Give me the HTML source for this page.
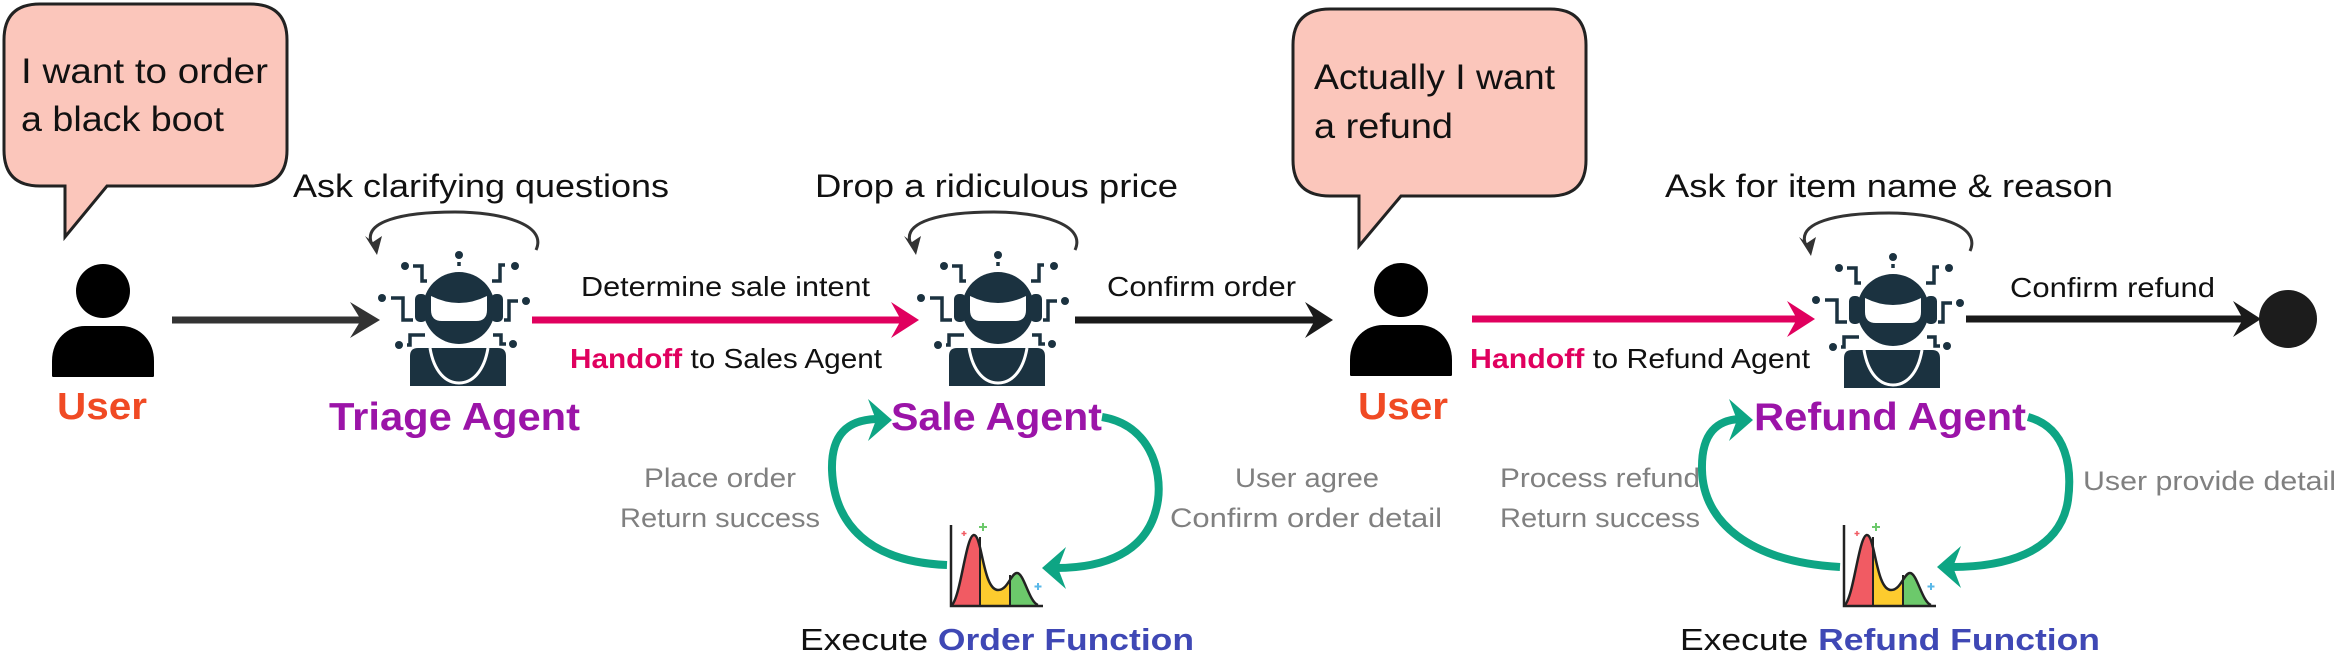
<!DOCTYPE html>
<html><head><meta charset="utf-8"><style>
html,body{margin:0;padding:0;background:#fff;}
svg{display:block;}
text{font-family:"Liberation Sans",sans-serif;}
</style></head><body>
<svg width="2352" height="664" viewBox="0 0 2352 664" xmlns="http://www.w3.org/2000/svg">
<defs>
<g id="robot">
  <g fill="#1b3240">
    <circle cx="0" cy="0" r="36"/>
    <rect x="-44" y="-14" width="12" height="28" rx="5"/>
    <rect x="32" y="-14" width="12" height="28" rx="5"/>
    <path d="M-49,78 L-49,48 Q-49,40 -41,40 L39,40 Q47,40 47,48 L47,78 Z"/>
    <circle cx="0" cy="-53" r="4"/>
    <circle cx="-54" cy="-42" r="4"/>
    <circle cx="56" cy="-42" r="4"/>
    <circle cx="-77" cy="-10" r="4"/>
    <circle cx="67" cy="-7" r="4"/>
    <circle cx="-60" cy="37" r="4"/>
    <circle cx="54" cy="36" r="4"/>
  </g>
  <g fill="none" stroke="#1b3240" stroke-width="3.5">
    <path d="M0,-46 L0,-42"/>
    <path d="M-46,-42 L-37,-42 L-37,-27 L-32,-27"/>
    <path d="M46,-43 L41,-43 L41,-27 L33,-27"/>
    <path d="M-68,-10 L-56,-10 L-56,12 L-46,12"/>
    <path d="M59,-7 L50,-7 L50,12 L45,12"/>
    <path d="M-52,37 L-49,37 L-49,27 L-34,27"/>
    <path d="M47,36 L42,36 L42,27 L34,27"/>
  </g>
  <path d="M-28,-12 Q0,2 28,-12 L28,2 Q28,13 17,13 L-17,13 Q-28,13 -28,2 Z" fill="#fff"/>
  <path d="M-29,40 C-25,64 -13,75 0,75 C13,75 25,64 29,40" fill="none" stroke="#fff" stroke-width="3"/>
</g>
<clipPath id="cc"><path d="M1,0 C10,-10 15,-70 23,-70 C31,-70 32,-15 47,-15 C57,-15 60,-32 66,-32 C73,-32 78,-3 87,0 Z"/></clipPath>
<g id="chart">
  <g clip-path="url(#cc)">
    <rect x="0" y="-80" width="29" height="80" fill="#f15b63"/>
    <rect x="29" y="-80" width="30" height="80" fill="#fdcb2e"/>
    <rect x="59" y="-80" width="35" height="80" fill="#6cc96b"/>
  </g>
  <path d="M1,0 C10,-10 15,-70 23,-70 C31,-70 32,-15 47,-15 C57,-15 60,-32 66,-32 C73,-32 78,-3 87,0" fill="none" stroke="#222" stroke-width="2.5"/>
  <path d="M29,-68 L29,0 M59,-30 L59,0" stroke="#222" stroke-width="2"/>
  <path d="M0,-80 L0,1 L92,1" fill="none" stroke="#222" stroke-width="2.5"/>
  <path d="M32,-82 v8 M28,-78 h8" stroke="#6cc96b" stroke-width="2"/>
  <path d="M13,-74 v5 M10.5,-71.5 h5" stroke="#f15b63" stroke-width="1.5"/>
  <path d="M87,-22 v7 M83.5,-18.5 h7" stroke="#5ab8e8" stroke-width="2"/>
</g>
<g id="user">
  <circle cx="0" cy="0" r="27" fill="#000"/>
  <path d="M-51,85 L-51,70 C-51,48 -35,35 -18,35 L18,35 C35,35 51,48 51,70 L51,85 Q51,86 49,86 L-49,86 Q-51,86 -51,85 Z" fill="#000"/>
</g>
<g id="loop">
  <path d="M536,250 C548,224 500,212 455,212 C400,212 365,222 371,242" fill="none" stroke="#333" stroke-width="3"/>
  <polygon points="365,236 377,255 382,236 373,242" fill="#333"/>
</g>
</defs>

<path d="M40,4 L250,4 Q287,4 287,40 L287,150 Q287,186 250,186 L107,186 L65,237 L65,186 L40,186 Q4,186 4,150 L4,40 Q4,4 40,4 Z" fill="#fbc6bb" stroke="#222" stroke-width="3"/>
<text x="21" y="83" font-size="35" fill="#111" textLength="247" lengthAdjust="spacingAndGlyphs">I want to order</text>
<text x="21" y="131" font-size="35" fill="#111" textLength="203" lengthAdjust="spacingAndGlyphs">a black boot</text>

<path d="M1330,9 L1550,9 Q1586,9 1586,45 L1586,160 Q1586,196 1550,196 L1401,196 L1359,246 L1359,196 L1330,196 Q1293,196 1293,160 L1293,45 Q1293,9 1330,9 Z" fill="#fbc6bb" stroke="#222" stroke-width="3"/>
<text x="1314" y="89" font-size="35" fill="#111" textLength="241" lengthAdjust="spacingAndGlyphs">Actually I want</text>
<text x="1314" y="138" font-size="35" fill="#111" textLength="139" lengthAdjust="spacingAndGlyphs">a refund</text>

<use href="#user" x="103" y="291"/>
<use href="#user" x="1401" y="290"/>
<text x="57" y="419" font-size="38" font-weight="bold" fill="#f04a24" textLength="90" lengthAdjust="spacingAndGlyphs">User</text>
<text x="1358" y="419" font-size="38" font-weight="bold" fill="#f04a24" textLength="90" lengthAdjust="spacingAndGlyphs">User</text>

<use href="#robot" x="459" y="308"/>
<use href="#robot" x="998" y="308"/>
<use href="#robot" x="1893" y="310"/>

<use href="#loop"/>
<use href="#loop" x="539"/>
<use href="#loop" x="1434" y="1"/>

<text x="293" y="197" font-size="32" fill="#111" textLength="376" lengthAdjust="spacingAndGlyphs">Ask clarifying questions</text>
<text x="815" y="197" font-size="32" fill="#111" textLength="363" lengthAdjust="spacingAndGlyphs">Drop a ridiculous price</text>
<text x="1665" y="197" font-size="32" fill="#111" textLength="448" lengthAdjust="spacingAndGlyphs">Ask for item name &amp; reason</text>

<line x1="172" y1="320" x2="370" y2="320" stroke="#333" stroke-width="7"/>
<polygon points="380,320 350,302 361,320 350,338" fill="#333"/>

<line x1="532" y1="320" x2="908" y2="320" stroke="#e0005e" stroke-width="7"/>
<polygon points="919,320 891,302 901,320 891,338" fill="#e0005e"/>
<text x="581" y="296" font-size="28" fill="#111" textLength="289" lengthAdjust="spacingAndGlyphs">Determine sale intent</text>
<text x="570" y="368" font-size="28" fill="#111" textLength="312" lengthAdjust="spacingAndGlyphs"><tspan font-weight="bold" fill="#e0005e">Handoff</tspan> to Sales Agent</text>

<line x1="1075" y1="320" x2="1322" y2="320" stroke="#1a1a1a" stroke-width="7"/>
<polygon points="1333,320 1305,302 1315,320 1305,338" fill="#1a1a1a"/>
<text x="1107" y="296" font-size="28" fill="#111" textLength="189" lengthAdjust="spacingAndGlyphs">Confirm order</text>

<line x1="1472" y1="319" x2="1804" y2="319" stroke="#e0005e" stroke-width="7"/>
<polygon points="1815,319 1787,301 1797,319 1787,337" fill="#e0005e"/>
<text x="1470" y="368" font-size="28" fill="#111" textLength="340" lengthAdjust="spacingAndGlyphs"><tspan font-weight="bold" fill="#e0005e">Handoff</tspan> to Refund Agent</text>

<line x1="1966" y1="319" x2="2250" y2="319" stroke="#1a1a1a" stroke-width="7"/>
<polygon points="2261,319 2233,301 2243,319 2233,337" fill="#1a1a1a"/>
<circle cx="2288" cy="319" r="29" fill="#1c1c1c"/>
<text x="2010" y="297" font-size="28" fill="#111" textLength="205" lengthAdjust="spacingAndGlyphs">Confirm refund</text>

<text x="329" y="430" font-size="39" font-weight="bold" fill="#9b14a8" textLength="251" lengthAdjust="spacingAndGlyphs">Triage Agent</text>
<text x="891" y="430" font-size="39" font-weight="bold" fill="#9b14a8" textLength="211" lengthAdjust="spacingAndGlyphs">Sale Agent</text>
<text x="1754" y="430" font-size="39" font-weight="bold" fill="#9b14a8" textLength="272" lengthAdjust="spacingAndGlyphs">Refund Agent</text>

<use href="#chart" x="951" y="605"/>
<use href="#chart" x="1844" y="605"/>

<g fill="none" stroke="#0ea584" stroke-width="8">
  <path d="M947,565 C870,562 834,525 832,470 C831,432 850,420 876,419"/>
  <path d="M1102,417 C1150,425 1162,470 1158,500 C1150,555 1100,568 1056,568"/>
  <path d="M1840,567 C1750,562 1703,522 1702,470 C1701,432 1718,420 1740,419"/>
  <path d="M2028,417 C2068,428 2072,470 2068,500 C2060,555 2000,567 1952,567"/>
</g>
<g fill="#0ea584">
  <polygon points="892,420 868,399 876,420 868,441"/>
  <polygon points="1042,568 1066,547 1058,568 1066,589"/>
  <polygon points="1753,420 1729,399 1737,420 1729,441"/>
  <polygon points="1937,567 1961,546 1953,567 1961,588"/>
</g>

<g font-size="27" fill="#808080">
  <text x="644" y="487" textLength="152" lengthAdjust="spacingAndGlyphs">Place order</text>
  <text x="620" y="527" textLength="200" lengthAdjust="spacingAndGlyphs">Return success</text>
  <text x="1235" y="487" textLength="144" lengthAdjust="spacingAndGlyphs">User agree</text>
  <text x="1170" y="527" textLength="272" lengthAdjust="spacingAndGlyphs">Confirm order detail</text>
  <text x="1500" y="487" textLength="200" lengthAdjust="spacingAndGlyphs">Process refund</text>
  <text x="1500" y="527" textLength="200" lengthAdjust="spacingAndGlyphs">Return success</text>
  <text x="2083" y="490" textLength="253" lengthAdjust="spacingAndGlyphs">User provide detail</text>
</g>

<text x="800" y="650" font-size="31" fill="#111" textLength="394" lengthAdjust="spacingAndGlyphs">Execute <tspan font-weight="bold" fill="#3f48b5">Order Function</tspan></text>
<text x="1680" y="650" font-size="31" fill="#111" textLength="420" lengthAdjust="spacingAndGlyphs">Execute <tspan font-weight="bold" fill="#3f48b5">Refund Function</tspan></text>
</svg>
</body></html>
